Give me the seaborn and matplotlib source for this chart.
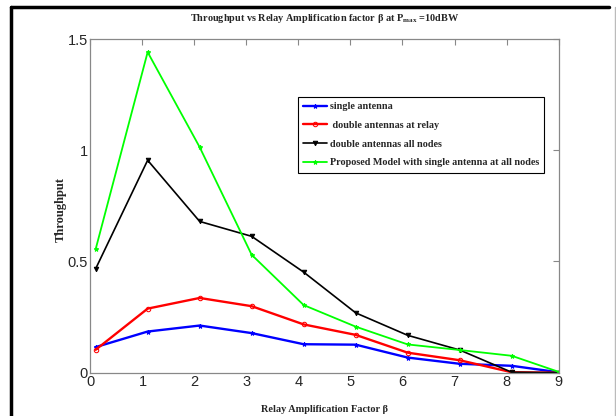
import matplotlib
matplotlib.use("Agg")
import matplotlib.pyplot as plt
from matplotlib.lines import Line2D
import seaborn as sns
import pandas as pd

beta = [0.1, 1.1, 2.1, 3.1, 4.1, 5.1, 6.1, 7.1, 8.1, 9.0]
single = [0.115, 0.185, 0.212, 0.178, 0.128, 0.126, 0.068, 0.040, 0.031, 0.002]
double_relay = [0.103, 0.288, 0.336, 0.299, 0.217, 0.170, 0.090, 0.056, 0.002, 0.0]
double_all = [0.467, 0.955, 0.680, 0.613, 0.452, 0.269, 0.168, 0.102, 0.002, 0.0]
proposed = [0.555, 1.441, 1.014, 0.530, 0.304, 0.207, 0.127, 0.102, 0.076, 0.004]

labels = ["single antenna", " double antennas at relay",
          "double antennas all nodes",
          "Proposed Model with single antenna at all nodes"]
colors = ["#0000ff", "#ff0000", "#000000", "#00ff00"]
markers = ["*", "o", "v", "*"]
widths = [1.7, 1.7, 1.2, 1.3]
series = [single, double_relay, double_all, proposed]

sns.set_style("white")
plt.rcParams['font.family'] = ['Liberation Sans Narrow', 'Liberation Sans', 'DejaVu Sans']

fig = plt.figure(figsize=(6.16, 4.16), dpi=100)
ax = fig.add_axes([0.1468, 0.1041, 0.7599, 0.8021])

for vals, lab, col, mk, lw in zip(series, labels, colors, markers, widths):
    df = pd.DataFrame({"beta": beta, "thr": vals})
    sns.lineplot(data=df, x="beta", y="thr", ax=ax, color=col, marker=mk,
                 markersize=3.2, markeredgecolor=col,
                 markerfacecolor=col if mk != "o" else "none",
                 linewidth=lw, label=lab)

ax.set_xlim(0, 9)
ax.set_ylim(0, 1.5)
ax.set_xticks(range(0, 10))
ax.set_yticks([0, 0.5, 1, 1.5])
ax.set_yticklabels(["0", "0.5", "1", "1.5"])
ax.tick_params(direction="in", length=4, width=0.8, color="#888888",
               top=True, right=True, labelsize=10.5, pad=2)
for s in ax.spines.values():
    s.set_color("#888888")
    s.set_linewidth(0.9)

serif = ['Liberation Serif', 'DejaVu Serif']
ax.set_xlabel("Relay Amplification Factor β", family=serif, fontweight="bold",
              fontsize=7.4, labelpad=11)
ax.set_ylabel("Throughput", family=serif, fontweight="bold", fontsize=9)
ax.yaxis.set_label_coords(-0.05, 0.49)
ax.set_title("Throughput vs Relay Amplification factor β at P$_{\\mathregular{max}}$ =10dBW",
             family=serif, fontweight="bold", fontsize=7.4, pad=13)

leg = ax.legend(loc="upper left", bbox_to_anchor=(0.444, 0.826), frameon=True,
                fancybox=False, edgecolor="black", framealpha=1,
                prop={'family': serif, 'weight': 'bold', 'size': 7.3},
                handlelength=2.3, handletextpad=0.3, borderpad=0.5,
                labelspacing=0.95, borderaxespad=0)
leg.get_frame().set_linewidth(0.8)

# outer frame of the picture
fig.add_artist(Line2D([11/616, 11/616], [0, 1 - 7/416], transform=fig.transFigure,
                      color="black", linewidth=2.5))
fig.add_artist(Line2D([11/616, 609/616], [1 - 7/416, 1 - 7/416], transform=fig.transFigure,
                      color="black", linewidth=2.5))
fig.add_artist(Line2D([614.5/616, 614.5/616], [0, 1 - 7/416], transform=fig.transFigure,
                      color="#bbbbbb", linewidth=1))

fig.savefig("out.png", dpi=100)
